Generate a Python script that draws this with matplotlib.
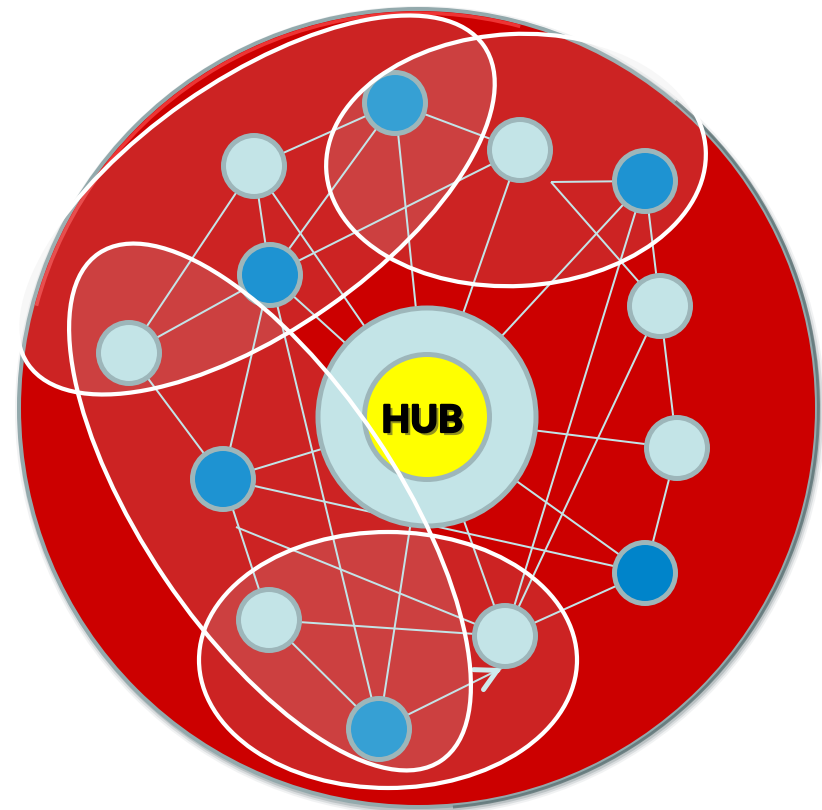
import matplotlib
matplotlib.use('Agg')
import matplotlib.pyplot as plt
from matplotlib.patches import Circle, Ellipse, Arc, FancyArrowPatch
import matplotlib.patheffects as pe
import numpy as np

# --- data: positions (pixels, y downward) ---
node_names = ['n1', 'n2', 'n3', 'n4', 'n5', 'n6', 'n7',
              'n8', 'n9', 'n10', 'n11', 'n12', 'n13']
node_x = [395, 254, 520, 645, 270, 129, 660, 677, 223, 645, 269, 505, 379]
node_y = [103, 166, 150, 181, 275, 353, 306, 448, 479, 573, 620, 636, 729]
node_kind = ['blue1', 'light', 'light', 'blue2', 'blue2', 'light', 'light',
             'light', 'blue2', 'blue3', 'light', 'light', 'blue1']

hub_label = 'HUB'
hub_x, hub_y = 427, 417

# loose line ends that do not sit on a node
junction_names = ['j1', 'j2']
junction_x = [551, 236]
junction_y = [182, 527]

edges = [('n1', 'n2'), ('n1', 'n3'), ('n1', 'n5'), ('n1', 'hub'),
         ('n2', 'n5'), ('n2', 'n6'), ('n2', 'hub'),
         ('n3', 'n5'), ('n3', 'hub'),
         ('j1', 'n4'), ('j1', 'n7'),
         ('n4', 'hub'), ('n4', 'n7'), ('n4', 'n12'),
         ('n7', 'n8'), ('n7', 'n12'),
         ('n8', 'hub'), ('n8', 'n10'),
         ('n5', 'n6'), ('n5', 'n9'), ('n5', 'n13'), ('n5', 'hub'),
         ('n6', 'n9'),
         ('n9', 'hub'), ('n9', 'n10'), ('n9', 'n11'), ('j2', 'n12'),
         ('hub', 'n10'), ('hub', 'n12'), ('hub', 'n13'),
         ('n10', 'n12'), ('n11', 'n12'), ('n11', 'n13')]

arrow_from = 'n13'
arrow_tip = (502, 668)

# white group outlines: centre, size, tilt
group_cx = [256, 516, 270, 388]
group_cy = [205, 160, 507, 660]
group_w = [556, 380, 612, 378]
group_h = [250, 252, 254, 256]
group_tilt = [-35, -3, 56, 0]

# --- styles ---
RED = '#CC0000'
RIM = '#93A9AC'
LIGHT = '#C3E4E7'
NODE_EDGE = '#9DB6BA'
EDGE = '#C3E4E7'
FILLS = {'light': LIGHT, 'blue1': '#36A0D4', 'blue2': '#1E93D2', 'blue3': '#0084CA'}
PX = 0.72  # points per pixel at dpi 100

pos = {n: (x, y) for n, x, y in zip(node_names, node_x, node_y)}
pos.update({n: (x, y) for n, x, y in zip(junction_names, junction_x, junction_y)})
pos['hub'] = (hub_x, hub_y)

fig = plt.figure(figsize=(8.22, 8.10), dpi=100)
ax = fig.add_axes([0, 0, 1, 1])
ax.set_xlim(0, 822)
ax.set_ylim(810, 0)
ax.axis('off')

# big disc with soft shadow, grey rim and a bright edge highlight
for k, a in enumerate([0.08, 0.14, 0.22]):
    ax.add_patch(Circle((420, 411), 405 - 2 * k, color='#4F6466', alpha=a, lw=0, zorder=1))
ax.add_patch(Circle((418, 408), 399, facecolor=RED, edgecolor=RIM, lw=4 * PX, zorder=2))
ax.add_patch(Arc((418, 408), 801, 801, theta1=-50, theta2=85,
                 color='#5E7375', lw=3 * PX, alpha=0.8, zorder=3))
ax.add_patch(Arc((418, 408), 790, 790, theta1=195, theta2=285,
                 color='#F23A3A', lw=3.5 * PX, alpha=0.9, zorder=3))

# translucent group fills
for cx, cy, w, h, t in zip(group_cx, group_cy, group_w, group_h, group_tilt):
    ax.add_patch(Ellipse((cx, cy), w, h, angle=t, facecolor='#D0D0D0',
                         alpha=0.17, lw=0, zorder=4))

# links
for a, b in edges:
    (x1, y1), (x2, y2) = pos[a], pos[b]
    ax.plot([x1, x2], [y1, y2], color=EDGE, lw=2 * PX, zorder=5,
            solid_capstyle='butt')

# arrow from n13 toward n12
x0, y0 = pos[arrow_from]
tx, ty = arrow_tip
ax.plot([x0, tx], [y0, ty], color=EDGE, lw=2 * PX, zorder=5)
d = np.array([tx - x0, ty - y0], float)
d /= np.hypot(*d)
ax.add_patch(FancyArrowPatch((tx - 6 * d[0], ty - 6 * d[1]), (tx, ty),
                             arrowstyle='->,head_length=15,head_width=8',
                             mutation_scale=1, shrinkA=0, shrinkB=0,
                             color='#CFEAEC', lw=5 * PX, capstyle='round',
                             joinstyle='round', zorder=5))

# nodes
for n, k in zip(node_names, node_kind):
    ax.add_patch(Circle(pos[n], 30.5, facecolor=FILLS[k], edgecolor=NODE_EDGE,
                        lw=5 * PX, zorder=6))

# hub
ax.add_patch(Circle((hub_x, hub_y), 109, facecolor=LIGHT, edgecolor=NODE_EDGE,
                    lw=5 * PX, zorder=7))
ax.add_patch(Circle((hub_x, hub_y), 62.5, facecolor='#FFFF00', edgecolor=NODE_EDGE,
                    lw=5 * PX, zorder=7))
ax.text(hub_x - 5, hub_y + 4, hub_label, fontsize=27, fontweight='bold',
        family=['Lato', 'DejaVu Sans'], ha='center', va='center', color='black',
        zorder=8,
        path_effects=[pe.withSimplePatchShadow(offset=(2.2, -2.2),
                                               shadow_rgbFace='#3A3A3A', alpha=0.55),
                      pe.Stroke(linewidth=1.6, foreground='black'),
                      pe.Normal()])

# white group outlines on top
for cx, cy, w, h, t in zip(group_cx, group_cy, group_w, group_h, group_tilt):
    ax.add_patch(Ellipse((cx, cy), w, h, angle=t, facecolor='none',
                         edgecolor='white', lw=4.2 * PX, zorder=9))

fig.savefig('out.png', dpi=100)
